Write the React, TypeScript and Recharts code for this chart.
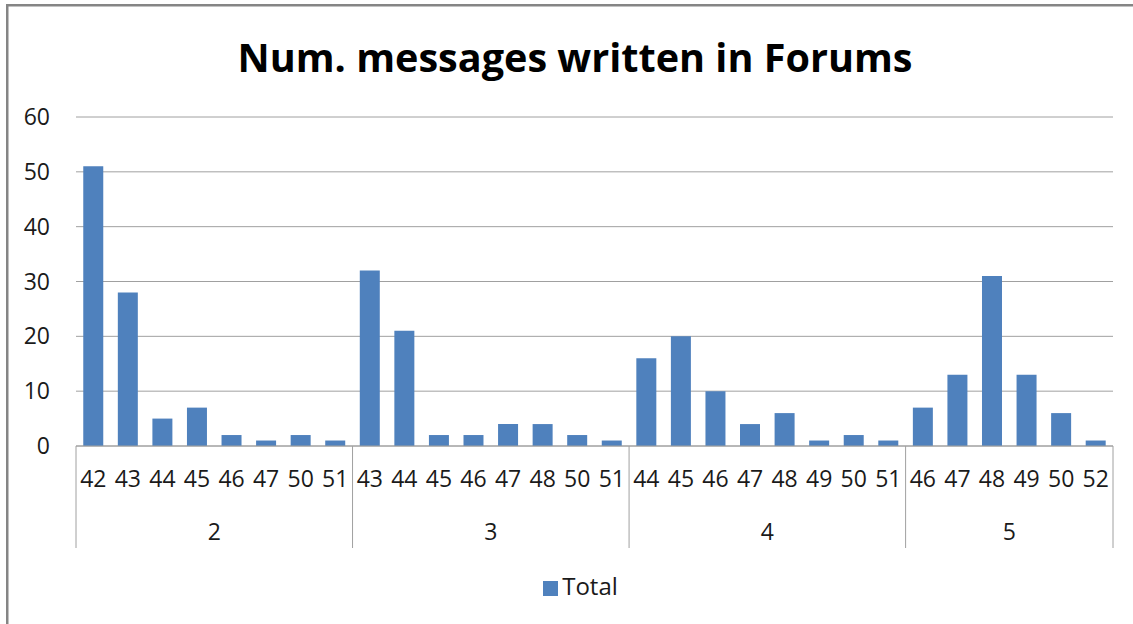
import React from 'react';
import { BarChart, Bar, XAxis, YAxis, CartesianGrid, Legend } from 'recharts';

// Weeks and message totals per group
const groupNames = ['2', '3', '4', '5'];
const group2Weeks = ['42', '43', '44', '45', '46', '47', '50', '51'];
const group2Totals = [51, 28, 5, 7, 2, 1, 2, 1];
const group3Weeks = ['43', '44', '45', '46', '47', '48', '50', '51'];
const group3Totals = [32, 21, 2, 2, 4, 4, 2, 1];
const group4Weeks = ['44', '45', '46', '47', '48', '49', '50', '51'];
const group4Totals = [16, 20, 10, 4, 6, 1, 2, 1];
const group5Weeks = ['46', '47', '48', '49', '50', '52'];
const group5Totals = [7, 13, 31, 13, 6, 1];
const yTicks = [0, 10, 20, 30, 40, 50, 60];

const groupWeeks = [group2Weeks, group3Weeks, group4Weeks, group5Weeks];
const groupTotals = [group2Totals, group3Totals, group4Totals, group5Totals];

interface Row {
  key: string;
  week: string;
  group: string;
  pos: number;
  size: number;
  Total: number;
}

const data: Row[] = groupNames.flatMap((g, gi) =>
  groupWeeks[gi].map((w, i) => ({
    key: `${g}-${w}`,
    week: w,
    group: g,
    pos: i,
    size: groupWeeks[gi].length,
    Total: groupTotals[gi][i],
  }))
);

const W = 1133;
const H = 624;
const PLOT_LEFT = 76;
const PLOT_RIGHT = 1113;
const PLOT_TOP = 117;
const PLOT_BOTTOM = 446;
const BAND = (PLOT_RIGHT - PLOT_LEFT) / data.length;
const FONT = '"Open Sans", "Liberation Sans", sans-serif';
const TEXT = '#1a1a1a';
const LINE = '#a0a0a0';
const FRAME = '#858585';

const CategoryTick = ({ x, y, index }: any) => {
  const d = data[index];
  if (!d) return null;
  const left = x - BAND / 2;
  return (
    <g>
      <text x={x} y={y + 41} textAnchor="middle" fontSize={23} fill={TEXT} fontFamily={FONT}>
        {d.week}
      </text>
      {d.pos === 0 && (
        <>
          <line x1={left} x2={left} y1={y} y2={y + 102} stroke={LINE} />
          <text
            x={left + (d.size * BAND) / 2}
            y={y + 94}
            textAnchor="middle"
            fontSize={23}
            fill={TEXT}
            fontFamily={FONT}
          >
            {d.group}
          </text>
        </>
      )}
      {index === data.length - 1 && (
        <line x1={x + BAND / 2} x2={x + BAND / 2} y1={y} y2={y + 102} stroke={LINE} />
      )}
    </g>
  );
};

export default function App() {
  return (
    <div style={{ position: 'absolute', left: 0, top: 0, width: W, height: H, overflow: 'hidden', background: '#fff' }}>
      <div style={{ position: 'absolute', left: 0, top: 0 }}>
        <BarChart
          width={W}
          height={H}
          data={data}
          margin={{ top: PLOT_TOP, right: W - PLOT_RIGHT, left: 0, bottom: 0 }}
          barCategoryGap="21%"
        >
          <CartesianGrid vertical={false} stroke={LINE} />
          <XAxis
            dataKey="key"
            interval={0}
            tickLine={false}
            tickSize={0}
            tickMargin={0}
            axisLine={{ stroke: LINE }}
            height={H - PLOT_BOTTOM}
            tick={<CategoryTick />}
          />
          <YAxis
            domain={[0, 60]}
            ticks={yTicks}
            width={PLOT_LEFT}
            axisLine={false}
            tickLine={false}
            tickSize={0}
            tickMargin={26}
            tick={{ fontSize: 23, fill: TEXT, fontFamily: FONT }}
          />
          <Legend
            layout="horizontal"
            verticalAlign="middle"
            align="center"
            iconType="square"
            iconSize={15}
            wrapperStyle={{ top: 569, left: 19, width: W, fontFamily: FONT, fontSize: 24 }}
            formatter={(value: string) => <span style={{ color: TEXT }}>{value}</span>}
          />
          <Bar dataKey="Total" fill="#4F81BD" isAnimationActive={false} />
        </BarChart>
      </div>
      {/* title and outer frame, drawn on top */}
      <svg width={W} height={H} style={{ position: 'absolute', left: 0, top: 0, pointerEvents: 'none' }}>
        <rect x={6} y={4} width={2.5} height={H - 4} fill={FRAME} />
        <rect x={6} y={4} width={W - 6} height={2.5} fill={FRAME} />
        <text
          x={575}
          y={72}
          textAnchor="middle"
          fontSize={40}
          fontWeight="bold"
          fill="#000"
          fontFamily={FONT}
          textLength={675}
          lengthAdjust="spacingAndGlyphs"
        >
          Num. messages written in Forums
        </text>
      </svg>
    </div>
  );
}
